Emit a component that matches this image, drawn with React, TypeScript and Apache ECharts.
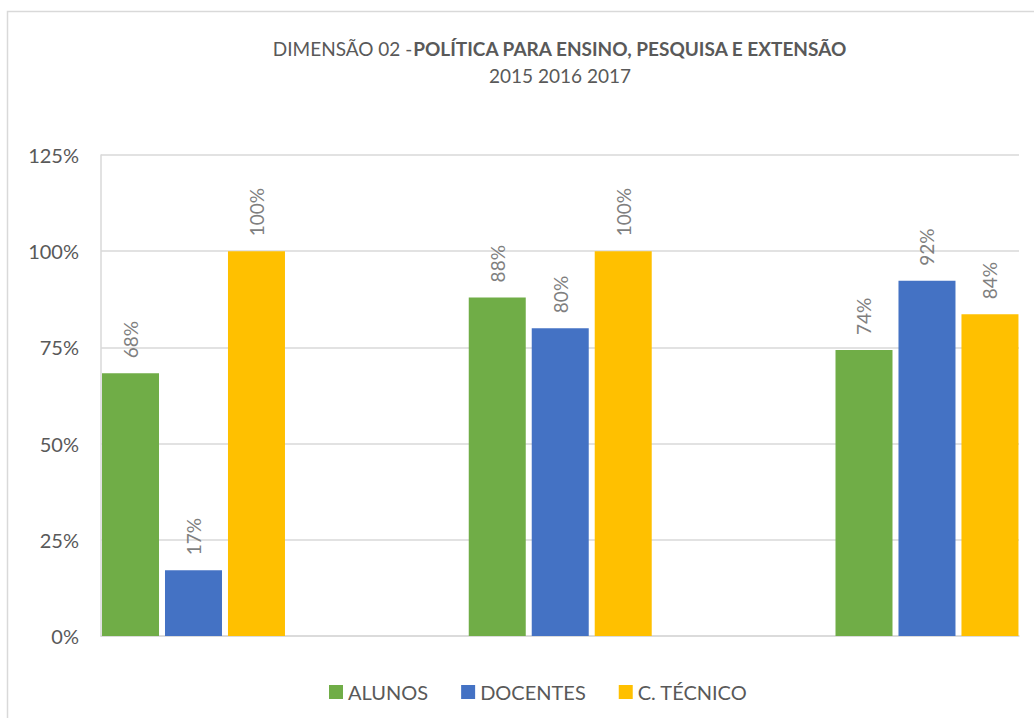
import React, { useEffect, useRef } from "react";
import * as echarts from "echarts";

const categories = ["2015", "2016", "2017"];
const seriesNames = ["ALUNOS", "DOCENTES", "C. TÉCNICO"];
const alunos = [0.683, 0.88, 0.743];
const docentes = [0.171, 0.80, 0.923];
const tecnico = [1.0, 1.0, 0.836];
const yTicks = { min: 0, max: 1.25, interval: 0.25 };
const colors = ["#70AD47", "#4472C4", "#FFC000"];
const titleNormal = "DIMENSÃO 02 -";
const titleBold = "POLÍTICA PARA ENSINO, PESQUISA E EXTENSÃO";
const subtitle = "2015 2016 2017";

const FONT = "Lato, 'Open Sans', sans-serif";

export default function App() {
  const ref = useRef<HTMLDivElement>(null);
  useEffect(() => {
    if (!ref.current) return;
    const chart = echarts.init(ref.current, undefined, { renderer: "svg" });
    const values = [alunos, docentes, tecnico];
    const pct = (v: number) => Math.round(v * 100) + "%";
    chart.setOption({
      animation: false,
      backgroundColor: "#ffffff",
      textStyle: { fontFamily: FONT },
      title: [
        {
          text: "{a|" + titleNormal + "}{b|" + titleBold + "}",
          left: 555,
          top: 34,
          textAlign: "center",
          textStyle: {
            rich: {
              a: { fontSize: 19, color: "#595959", fontFamily: FONT, fontWeight: "normal" },
              b: { fontSize: 19, color: "#595959", fontFamily: FONT, fontWeight: "bold" },
            },
          },
        },
        {
          text: subtitle,
          left: 555,
          top: 61,
          textAlign: "center",
          textStyle: { fontSize: 19, color: "#595959", fontFamily: FONT, fontWeight: "normal" },
        },
      ],
      graphic: [
        {
          type: "rect",
          shape: { x: 7.5, y: 11.5, width: 1100, height: 800 },
          style: { fill: "none", stroke: "#d9d9d9", lineWidth: 1.5 },
          silent: true,
        },
      ],
      legend: {
        left: 324,
        top: 677,
        itemWidth: 14,
        itemHeight: 14,
        itemGap: 33,
        icon: "rect",
        data: seriesNames,
        textStyle: { fontSize: 20, color: "#595959", fontFamily: FONT },
      },
      grid: [{ left: 101, right: 15, top: 155, bottom: 82 }],
      xAxis: [
        {
          type: "value",
          min: -0.2522,
          max: 2.2509,
          axisLine: { show: true, onZero: false, lineStyle: { color: "#d9d9d9", width: 1.5 } },
          axisTick: { show: false },
          axisLabel: { show: false },
          splitLine: { show: false },
        },
      ],
      yAxis: [
        {
          type: "value",
          min: yTicks.min,
          max: yTicks.max,
          interval: yTicks.interval,
          axisLine: { show: true, onZero: false, lineStyle: { color: "#d9d9d9", width: 1.5 } },
          axisTick: { show: false },
          axisLabel: {
            formatter: (v: number) => pct(v),
            fontSize: 20,
            color: "#595959",
            fontFamily: FONT,
            margin: 22,
          },
          splitLine: { show: true, lineStyle: { color: "#d9d9d9", width: 1.5 } },
        },
      ],
      series: seriesNames.map((name, i) => ({
        name,
        type: "bar",
        data: values[i].map((v, k) => ({ value: [k, v], name: categories[k] })),
        barWidth: 57,
        barGap: "10.5%",
        itemStyle: { color: colors[i] },
        label: {
          show: true,
          position: "top",
          rotate: 90,
          align: "left",
          verticalAlign: "middle",
          distance: 15,
          fontSize: 19,
          color: "#7f7f7f",
          fontFamily: FONT,
          formatter: (p: any) => pct(p.value[1]),
        },
      })),
      color: colors,
    });
    return () => chart.dispose();
  }, []);
  return (
    <div
      ref={ref}
      style={{ position: "fixed", left: 0, top: 0, width: 1034, height: 718 }}
    />
  );
}
